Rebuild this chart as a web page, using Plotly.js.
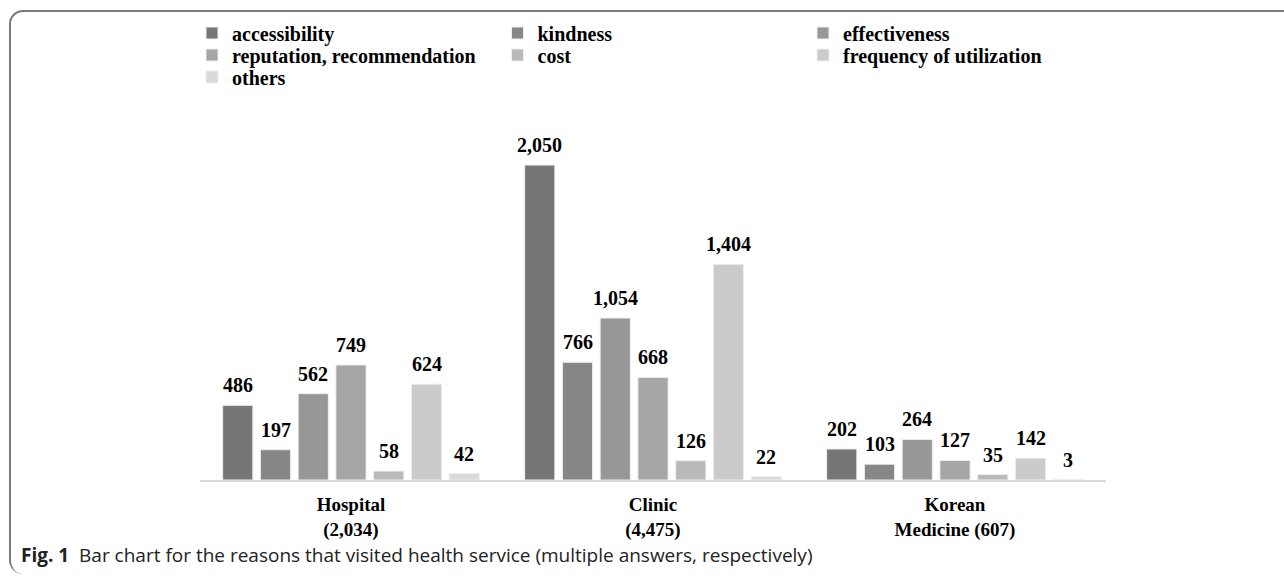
<!DOCTYPE html>
<html>
<head>
<meta charset="utf-8">
<script src="https://cdn.plot.ly/plotly-3.0.1.min.js"></script>
<style>
  html, body { margin: 0; padding: 0; background: #fff; }
  #wrap { position: relative; width: 1284px; height: 578px; }
  #chart { position: absolute; left: 0; top: 0; width: 1284px; height: 578px; }
  #frame { position: absolute; left: 9px; top: 10px; width: 1290px; height: 562px;
           border-top: 2px solid #7a7a7a; border-left: 2px solid #7a7a7a;
           border-top-left-radius: 14px; border-bottom-left-radius: 14px;
           pointer-events: none; }
</style>
</head>
<body>
<div id="wrap">
  <div id="chart"></div>
  <div id="frame"></div>
</div>
<script>
const categories = ["Hospital<br>(2,034)", "Clinic<br>(4,475)", "Korean<br>Medicine (607)"];
const seriesNames = ["accessibility", "kindness", "effectiveness", "reputation, recommendation", "cost", "frequency of utilization", "others"];
const accessibility = [486, 2050, 202];
const kindness = [197, 766, 103];
const effectiveness = [562, 1054, 264];
const reputation = [749, 668, 127];
const cost = [58, 126, 35];
const frequency = [624, 1404, 142];
const others = [42, 22, 3];
const colors = ["#767676", "#878787", "#979797", "#a6a6a6", "#b9b9b9", "#cbcbcb", "#dadada"];
const caption = "<b>Fig. 1</b>  Bar chart for the reasons that visited health service (multiple answers, respectively)";

const seriesValues = [accessibility, kindness, effectiveness, reputation, cost, frequency, others];
const serif = "Liberation Serif, Times New Roman, serif";
const bargap = 0.125;

// plot area geometry (pixels)
const W = 1284, H = 578;
const M = { l: 200, r: 178, t: 142, b: 98, autoexpand: false };
const pw = W - M.l - M.r, ph = H - M.t - M.b;

// legend rows of three entries each
const legendIds = ["legend", "legend2", "legend3"];
const rowCenters = [33, 55, 77];

const traces = seriesValues.map((vals, i) => ({
  type: "bar",
  name: seriesNames[i],
  x: categories,
  y: vals,
  legend: legendIds[Math.floor(i / 3)],
  marker: { color: colors[i], line: { color: "#eeeeee", width: 1 } },
  hoverinfo: "skip"
}));

const nS = seriesValues.length;
const slot = (1 - bargap) / nS;
const annotations = [];
seriesValues.forEach((vals, i) => {
  vals.forEach((v, j) => {
    annotations.push({
      xref: "x", yref: "y",
      x: j + (i - (nS - 1) / 2) * slot,
      y: v,
      text: "<b>" + v.toLocaleString("en-US") + "</b>",
      showarrow: false,
      yanchor: "bottom",
      yshift: 7,
      font: { family: serif, size: 20, color: "#000" }
    });
  });
});
annotations.push({
  xref: "paper", yref: "paper",
  x: (19 - M.l) / pw, y: -(555 - (H - M.b)) / ph,
  xanchor: "left", yanchor: "middle",
  text: caption, showarrow: false,
  font: { family: "Open Sans, Noto Sans, sans-serif", size: 19, color: "#222" }
});

function legendFor(k) {
  return {
    orientation: "h",
    xref: "paper", yref: "paper",
    x: (192 - M.l) / pw, y: 1 + (M.t - rowCenters[k]) / ph,
    xanchor: "left", yanchor: "middle",
    entrywidth: 260.5, entrywidthmode: "pixels",
    font: { family: serif, size: 20, color: "#000", weight: "bold" },
    traceorder: "normal",
    bgcolor: "rgba(0,0,0,0)",
    itemclick: false, itemdoubleclick: false
  };
}

const layout = {
  width: W, height: H,
  paper_bgcolor: "#fff", plot_bgcolor: "#fff",
  margin: M,
  barmode: "group",
  bargap: bargap,
  bargroupgap: 0.2,
  showlegend: true,
  legend: legendFor(0),
  legend2: legendFor(1),
  legend3: legendFor(2),
  xaxis: {
    type: "category",
    showline: true, linecolor: "#d9d9d9", linewidth: 2,
    ticks: "", showgrid: false, zeroline: false,
    ticklabelstandoff: 6,
    tickfont: { family: serif, size: 19, color: "#000", weight: "bold" },
    automargin: false
  },
  yaxis: {
    range: [0, 2200],
    visible: false, showgrid: false, zeroline: false
  },
  annotations: annotations
};

Plotly.newPlot("chart", traces, layout, { displayModeBar: false, staticPlot: true });
</script>
</body>
</html>
